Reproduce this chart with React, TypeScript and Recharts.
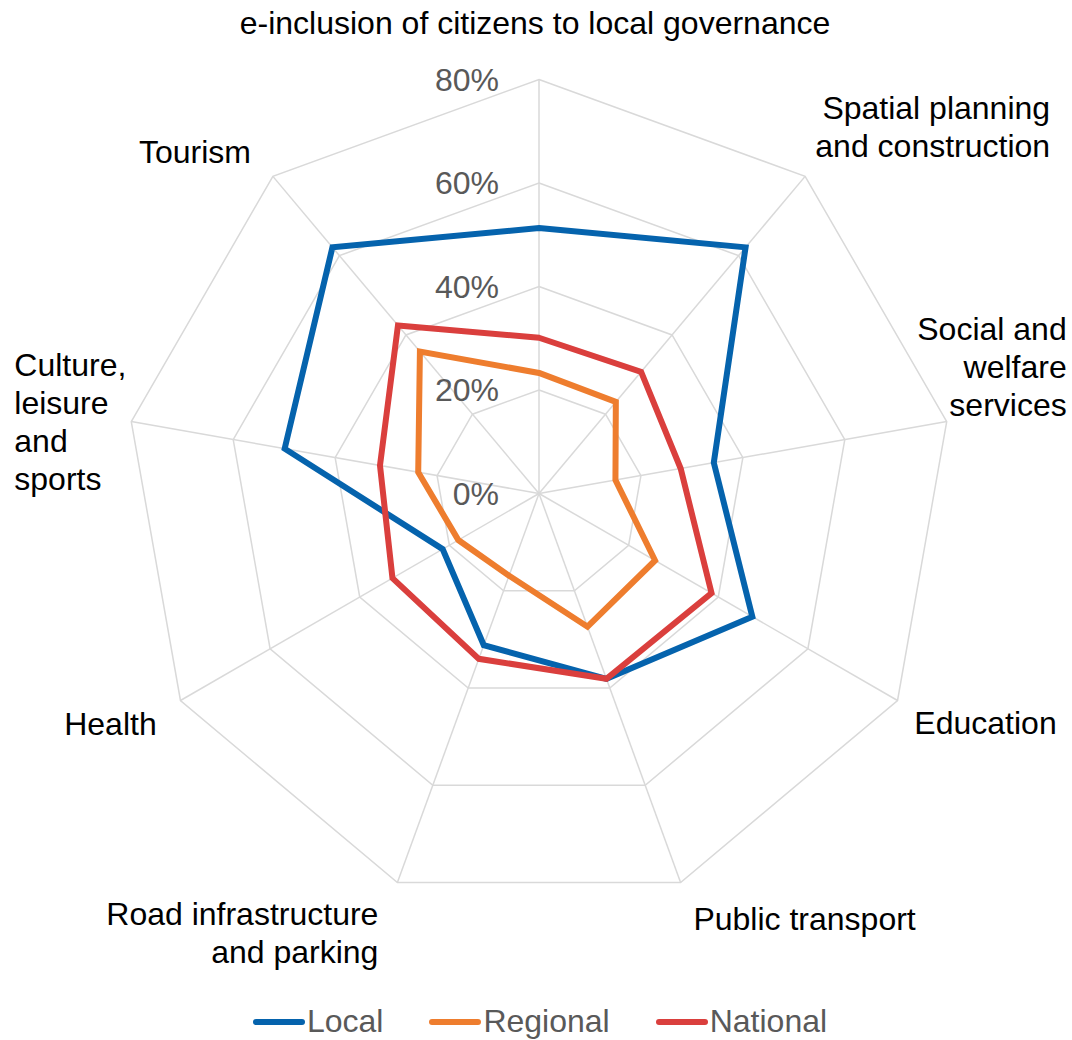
import React from "react";
import { RadarChart, Radar, PolarGrid, PolarAngleAxis, PolarRadiusAxis, Legend } from "recharts";

// categories, clockwise from the top
const categories = [
  "e-inclusion of citizens to local governance",
  "Spatial planning\nand construction",
  "Social and\nwelfare\nservices",
  "Education",
  "Public transport",
  "Road infrastructure\nand parking",
  "Health",
  "Culture,\nleisure\nand\nsports",
  "Tourism",
];

// shares in %
const local = [51.3, 62.1, 34.3, 47.6, 38.1, 31.2, 21.5, 49.9, 62.1];
const regional = [23.3, 23.1, 15.0, 25.9, 27.4, 16.9, 18.0, 23.7, 35.8];
const national = [30.1, 30.7, 27.8, 38.5, 38.1, 34.0, 32.7, 31.2, 42.4];

const radiusTicks = [0, 20, 40, 60, 80];

const seriesList = [
  { key: "local", name: "Local", color: "#0563ad" },
  { key: "regional", name: "Regional", color: "#ee7d2e" },
  { key: "national", name: "National", color: "#da3f3d" },
];

const data = categories.map((c, i) => ({
  category: c,
  local: local[i],
  regional: regional[i],
  national: national[i],
}));

const W = 1072;
const H = 1040;
const CX = 539;
const CY = 493.5;
const R = 414;
const FONT = "'Liberation Sans', Arial, sans-serif";
const FS = 32;
const LINE_H = 38;

// where each category label sits relative to its spoke end (Excel-ish placement)
const labelLayout: { dx: number; dy: number; anchor: "start" | "middle" | "end" }[] = [
  { dx: -4, dy: -57, anchor: "middle" },
  { dx: 245, dy: -68, anchor: "end" },
  { dx: 120, dy: -93, anchor: "end" },
  { dx: 88, dy: 22, anchor: "middle" },
  { dx: 124, dy: 36, anchor: "middle" },
  { dx: -19, dy: 31, anchor: "end" },
  { dx: -70, dy: 23, anchor: "middle" },
  { dx: -117, dy: -57, anchor: "start" },
  { dx: -78, dy: -24, anchor: "middle" },
];

function AngleTick(props: any) {
  const { payload, index } = props;
  const ang = (90 - index * (360 / categories.length)) * (Math.PI / 180);
  const vx = CX + R * Math.cos(ang);
  const vy = CY - R * Math.sin(ang);
  const lay = labelLayout[index];
  const lines = String(payload.value).split("\n");
  return (
    <text
      x={vx + lay.dx}
      y={vy + lay.dy}
      textAnchor={lay.anchor}
      dominantBaseline="central"
      fontFamily={FONT}
      fontSize={FS}
      fill="#000"
    >
      {lines.map((l, i) => (
        <tspan key={i} x={vx + lay.dx} dy={i === 0 ? 0 : LINE_H}>
          {l}
        </tspan>
      ))}
    </text>
  );
}

function RadiusTick(props: any) {
  const { x, y, payload } = props;
  return (
    <text
      x={x - 40}
      y={y}
      textAnchor="end"
      dominantBaseline="central"
      fontFamily={FONT}
      fontSize={FS}
      fill="#595959"
    >
      {payload.value}%
    </text>
  );
}

function LegendContent() {
  return (
    <div
      style={{
        display: "flex",
        justifyContent: "center",
        gap: 46,
        fontFamily: FONT,
        fontSize: FS,
        color: "#595959",
        paddingLeft: 8,
      }}
    >
      {seriesList.map((s) => (
        <span key={s.key} style={{ display: "flex", alignItems: "center" }}>
          <span
            style={{
              display: "inline-block",
              width: 52,
              height: 6,
              borderRadius: 3,
              background: s.color,
              marginRight: 2,
            }}
          />
          {s.name}
        </span>
      ))}
    </div>
  );
}

export default function App() {
  return (
    <div style={{ position: "absolute", left: 0, top: 0, width: W, height: H, background: "#fff" }}>
      <RadarChart
        width={W}
        height={H}
        data={data}
        cx={CX}
        cy={CY}
        outerRadius={R}
        margin={{ top: 0, right: 0, bottom: 0, left: 0 }}
      >
        <PolarGrid gridType="polygon" stroke="#d9d9d9" strokeWidth={1.5} />
        <PolarAngleAxis dataKey="category" tick={AngleTick} tickLine={false} axisLine={false} />
        <PolarRadiusAxis
          angle={90}
          domain={[0, 80]}
          ticks={radiusTicks}
          tick={RadiusTick}
          axisLine={false}
          tickLine={false}
        />
        {seriesList.map((s) => (
          <Radar
            key={s.key}
            name={s.name}
            dataKey={s.key}
            stroke={s.color}
            strokeWidth={6}
            fill="none"
            fillOpacity={0}
            dot={false}
            isAnimationActive={false}
          />
        ))}
        <Legend
          verticalAlign="bottom"
          align="center"
          content={LegendContent}
          wrapperStyle={{ bottom: 0, left: 0, width: W }}
        />
      </RadarChart>
    </div>
  );
}
